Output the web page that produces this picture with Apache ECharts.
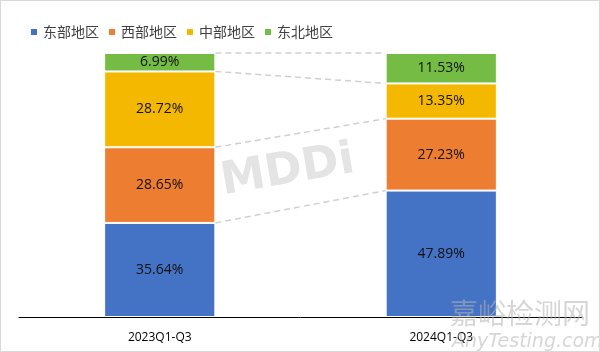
<!DOCTYPE html>
<html><head><meta charset="utf-8">
<script src="https://cdn.jsdelivr.net/npm/echarts@6/dist/echarts.min.js"></script>
<style>
html,body{margin:0;padding:0;background:#fff;}
#wrap{position:absolute;left:0;top:0;width:598px;height:350px;border:1px solid #d9d9d9;}
#c{width:598px;height:350px;}
</style></head>
<body><div id="wrap"><div id="c"></div></div>
<script>
const categories = ['2023Q1-Q3', '2024Q1-Q3'];
const seriesNames = ['东部地区', '西部地区', '中部地区', '东北地区'];
const east = [35.64, 47.89];
const west = [28.65, 27.23];
const central = [28.72, 13.35];
const northeast = [6.99, 11.53];
const colors = ['#4472C4', '#ED7D31', '#F4B800', '#74BC44'];

const stacks = [east, west, central, northeast];
// cumulative boundaries for connector lines
const levels = [];
let cum = [0, 0];
stacks.forEach(s => { cum = [cum[0] + s[0], cum[1] + s[1]]; levels.push([0, cum[0], cum[1]]); });

const barRatio = 0.395;
const chart = echarts.init(document.getElementById('c'));
const barSeries = stacks.map((d, i) => ({
  name: seriesNames[i], type: 'bar', stack: 'total', data: d,
  barWidth: (barRatio * 100) + '%',
  itemStyle: { color: colors[i], borderColor: '#fff', borderWidth: 1 },
  label: { show: true, position: 'inside', color: '#111', fontSize: 14,
    fontFamily: 'Open Sans', formatter: p => p.value.toFixed(2) + '%' },
  emphasis: { disabled: true }, z: 3
}));
const connector = {
  type: 'custom', silent: true, z: 2,
  encode: { x: 0, y: [1, 2] },
  data: levels,
  renderItem: function (params, api) {
    const a = api.coord([0, api.value(1)]);
    const b = api.coord([1, api.value(2)]);
    const bw = api.size([1, 0])[0] * barRatio / 2;
    return { type: 'line', shape: { x1: a[0] + bw, y1: a[1], x2: b[0] - bw, y2: b[1] },
      style: { stroke: '#d0d0d0', lineWidth: 1.5, lineDash: [6, 4] } };
  }
};
chart.setOption({
  animation: false,
  legend: { data: seriesNames, left: 23, top: 19, icon: 'rect', itemWidth: 8, itemHeight: 8,
    itemGap: 8, textStyle: { fontSize: 14, color: '#404040', fontFamily: 'Noto Sans CJK SC' } },
  grid: { left: 18, right: 17, top: 52, bottom: 34 },
  xAxis: { type: 'category', data: categories,
    axisLine: { lineStyle: { color: '#000', width: 1 } }, axisTick: { show: false },
    axisLabel: { color: '#000', fontSize: 12, fontFamily: 'Open Sans', margin: 15 } },
  yAxis: { type: 'value', min: 0, max: 100, show: false, splitLine: { show: false } },
  graphic: [
    { type: 'text', x: 224, y: 204, rotation: 0.17, z: 0, style: { text: 'MDDi', fontSize: 45, fontWeight: 'bold',
      fontFamily: 'DejaVu Sans', fill: '#e4e4e4', textVerticalAlign: 'bottom' } },
    { type: 'text', left: 449, top: 298, z: 10, style: { text: '嘉峪检测网', fontSize: 28,
      fontFamily: 'Noto Sans CJK SC', fill: 'rgba(180,180,180,0.55)' } },
    { type: 'text', left: 451, top: 332, z: 10, style: { text: 'AnyTesting.com', fontSize: 19,
      fontStyle: 'italic', fontFamily: 'DejaVu Sans', fill: 'rgba(180,180,180,0.55)' } }
  ],
  series: [connector].concat(barSeries)
});
</script></body></html>
